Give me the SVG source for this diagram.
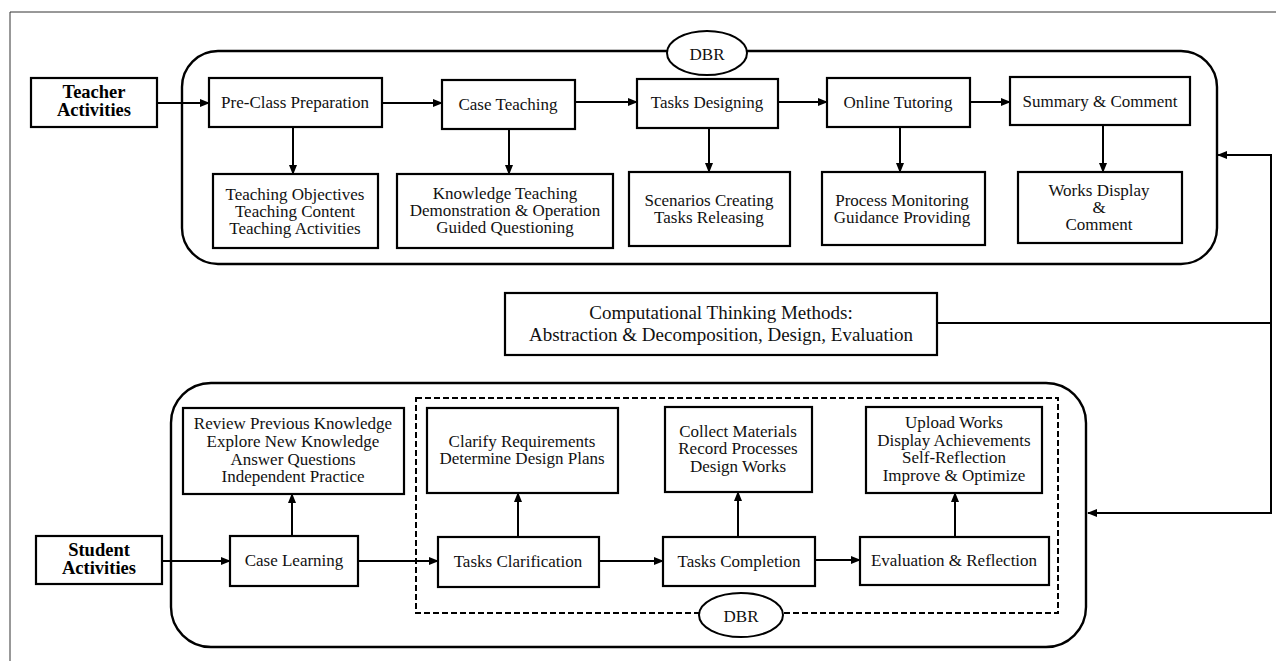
<svg xmlns="http://www.w3.org/2000/svg" width="1276" height="661" viewBox="0 0 1276 661">
<defs>
<marker id="ah" markerWidth="10" markerHeight="8" refX="9" refY="4" orient="auto" markerUnits="userSpaceOnUse">
<path d="M0,0 L10,4 L0,8 Z" fill="#000"/>
</marker>
</defs>
<style>
.box{fill:#fff;stroke:#000;stroke-width:2.2}
.cont{fill:none;stroke:#000;stroke-width:2.4}
.dash{fill:none;stroke:#000;stroke-width:2;stroke-dasharray:6 3}
.ln{fill:none;stroke:#000;stroke-width:2}
text{font-family:'Liberation Serif','DejaVu Serif',serif;fill:#111;text-anchor:middle}
.t{font-size:17px}
.b{font-size:18.5px;font-weight:bold;fill:#000}
.ct{font-size:19px}
</style>
<rect width="1276" height="661" fill="#fff"/>
<path d="M10,661 L10,12 L1276,12" fill="none" stroke="#333" stroke-width="1"/>

<g id="teacher-container">
<rect class="cont" x="182" y="51" width="1035" height="213" rx="36" ry="36"/>
</g>
<g id="student-container">
<rect class="cont" x="171" y="383" width="915" height="264" rx="40" ry="40"/>
<rect class="dash" x="416" y="398" width="642" height="215"/>
</g>

<g id="connectors">
<line class="ln" x1="157" y1="103" x2="209" y2="103" marker-end="url(#ah)"/>
<line class="ln" x1="382" y1="103" x2="442" y2="103" marker-end="url(#ah)"/>
<line class="ln" x1="575" y1="102" x2="637" y2="102" marker-end="url(#ah)"/>
<line class="ln" x1="778" y1="102" x2="827" y2="102" marker-end="url(#ah)"/>
<line class="ln" x1="970" y1="102" x2="1010" y2="102" marker-end="url(#ah)"/>
<line class="ln" x1="293" y1="127" x2="293" y2="174" marker-end="url(#ah)"/>
<line class="ln" x1="509" y1="129" x2="509" y2="174" marker-end="url(#ah)"/>
<line class="ln" x1="709" y1="128" x2="709" y2="172" marker-end="url(#ah)"/>
<line class="ln" x1="900" y1="127" x2="900" y2="172" marker-end="url(#ah)"/>
<line class="ln" x1="1103" y1="125" x2="1103" y2="172" marker-end="url(#ah)"/>
<line class="ln" x1="937" y1="323" x2="1271" y2="323"/>
<polyline class="ln" points="1271,323 1271,155 1218,155" marker-end="url(#ah)"/>
<polyline class="ln" points="1271,323 1271,513 1088,513" marker-end="url(#ah)"/>
<line class="ln" x1="162" y1="561" x2="230" y2="561" marker-end="url(#ah)"/>
<line class="ln" x1="358" y1="561" x2="438" y2="561" marker-end="url(#ah)"/>
<line class="ln" x1="599" y1="561" x2="663" y2="561" marker-end="url(#ah)"/>
<line class="ln" x1="815" y1="560" x2="860" y2="560" marker-end="url(#ah)"/>
<line class="ln" x1="292" y1="536" x2="292" y2="494" marker-end="url(#ah)"/>
<line class="ln" x1="518" y1="537" x2="518" y2="493" marker-end="url(#ah)"/>
<line class="ln" x1="738" y1="537" x2="738" y2="492" marker-end="url(#ah)"/>
<line class="ln" x1="955" y1="537" x2="955" y2="493" marker-end="url(#ah)"/>
</g>

<g id="dbr-top">
<ellipse cx="707" cy="53" rx="40" ry="22" fill="#fff" stroke="#000" stroke-width="2"/>
<text class="t" x="707" y="60">DBR</text>
</g>
<g id="dbr-bottom">
<ellipse cx="741" cy="615" rx="42" ry="22" fill="#fff" stroke="#000" stroke-width="2"/>
<text class="t" x="741" y="622">DBR</text>
</g>

<g id="teacher-activities">
<rect class="box" x="31" y="78" width="126" height="49"/>
<text class="b" x="94" y="98">Teacher</text>
<text class="b" x="94" y="116">Activities</text>
</g>
<g id="pre-class">
<rect class="box" x="209" y="78" width="173" height="49"/>
<text class="t" x="295" y="108">Pre-Class Preparation</text>
</g>
<g id="case-teaching">
<rect class="box" x="442" y="80" width="133" height="49"/>
<text class="t" x="508" y="110">Case Teaching</text>
</g>
<g id="tasks-designing">
<rect class="box" x="637" y="79" width="141" height="49"/>
<text class="t" x="707" y="108">Tasks Designing</text>
</g>
<g id="online-tutoring">
<rect class="box" x="827" y="78" width="143" height="49"/>
<text class="t" x="898" y="108">Online Tutoring</text>
</g>
<g id="summary-comment">
<rect class="box" x="1010" y="77" width="180" height="48"/>
<text class="t" x="1100" y="107">Summary &amp; Comment</text>
</g>
<g id="teaching-objectives">
<rect class="box" x="213" y="174" width="165" height="74"/>
<text class="t" x="295" y="200">Teaching Objectives</text>
<text class="t" x="295" y="217">Teaching Content</text>
<text class="t" x="295" y="234">Teaching Activities</text>
</g>
<g id="knowledge-teaching">
<rect class="box" x="397" y="174" width="216" height="74"/>
<text class="t" x="505" y="199">Knowledge Teaching</text>
<text class="t" x="505" y="216">Demonstration &amp; Operation</text>
<text class="t" x="505" y="233">Guided Questioning</text>
</g>
<g id="scenarios">
<rect class="box" x="629" y="172" width="161" height="74"/>
<text class="t" x="709" y="206">Scenarios Creating</text>
<text class="t" x="709" y="223">Tasks Releasing</text>
</g>
<g id="process-monitoring">
<rect class="box" x="822" y="172" width="163" height="73"/>
<text class="t" x="902" y="206">Process Monitoring</text>
<text class="t" x="902" y="223">Guidance Providing</text>
</g>
<g id="works-display">
<rect class="box" x="1018" y="172" width="164" height="71"/>
<text class="t" x="1099" y="196">Works Display</text>
<text class="t" x="1099" y="213">&amp;</text>
<text class="t" x="1099" y="230">Comment</text>
</g>

<g id="ct-methods">
<rect class="box" x="505" y="293" width="432" height="62"/>
<text class="ct" x="721" y="319">Computational Thinking Methods:</text>
<text class="ct" x="721" y="341">Abstraction &amp; Decomposition, Design, Evaluation</text>
</g>

<g id="student-activities">
<rect class="box" x="36" y="536" width="126" height="48"/>
<text class="b" x="99" y="556">Student</text>
<text class="b" x="99" y="574">Activities</text>
</g>
<g id="case-learning">
<rect class="box" x="230" y="536" width="128" height="50"/>
<text class="t" x="294" y="566">Case Learning</text>
</g>
<g id="review">
<rect class="box" x="183" y="408" width="221" height="86"/>
<text class="t" x="293" y="429">Review Previous Knowledge</text>
<text class="t" x="293" y="447">Explore New Knowledge</text>
<text class="t" x="293" y="465">Answer Questions</text>
<text class="t" x="293" y="482">Independent Practice</text>
</g>
<g id="tasks-clarification">
<rect class="box" x="438" y="537" width="161" height="50"/>
<text class="t" x="518" y="567">Tasks Clarification</text>
</g>
<g id="clarify">
<rect class="box" x="427" y="408" width="191" height="85"/>
<text class="t" x="522" y="447">Clarify Requirements</text>
<text class="t" x="522" y="464">Determine Design Plans</text>
</g>
<g id="tasks-completion">
<rect class="box" x="663" y="537" width="152" height="49"/>
<text class="t" x="739" y="567">Tasks Completion</text>
</g>
<g id="collect">
<rect class="box" x="665" y="407" width="147" height="85"/>
<text class="t" x="738" y="437">Collect Materials</text>
<text class="t" x="738" y="454">Record Processes</text>
<text class="t" x="738" y="472">Design Works</text>
</g>
<g id="evaluation">
<rect class="box" x="860" y="537" width="189" height="48"/>
<text class="t" x="954" y="566">Evaluation &amp; Reflection</text>
</g>
<g id="upload">
<rect class="box" x="866" y="407" width="176" height="86"/>
<text class="t" x="954" y="428">Upload Works</text>
<text class="t" x="954" y="446">Display Achievements</text>
<text class="t" x="954" y="463">Self-Reflection</text>
<text class="t" x="954" y="481">Improve &amp; Optimize</text>
</g>
</svg>
